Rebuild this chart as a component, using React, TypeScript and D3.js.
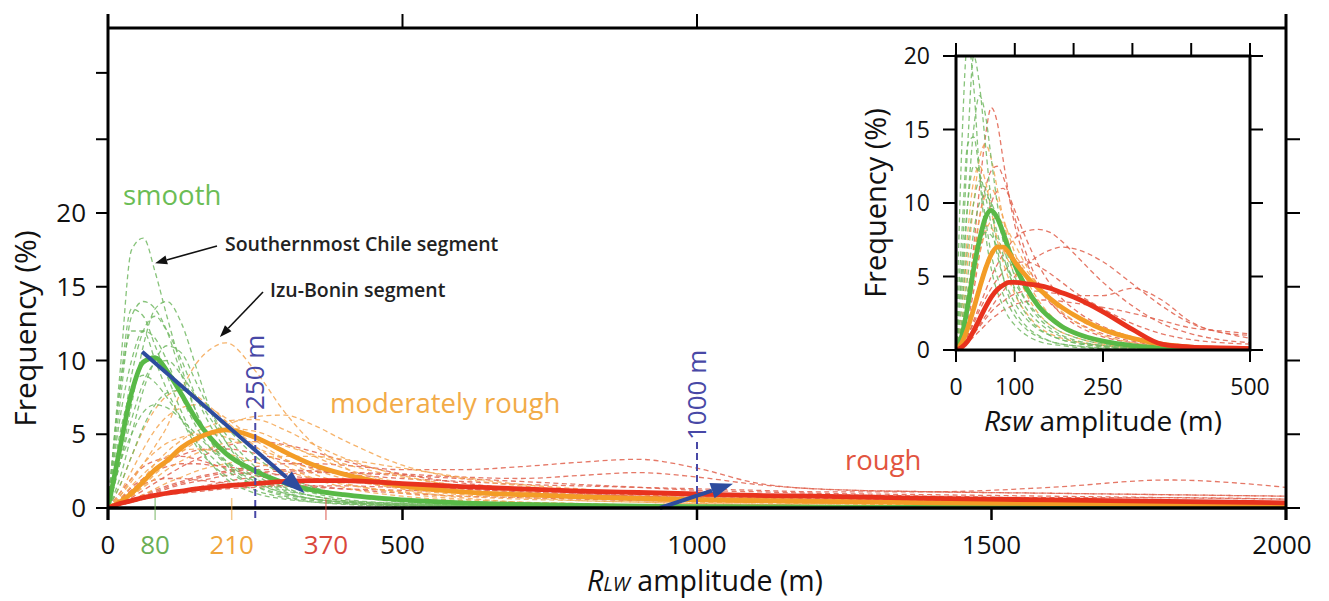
import React from "react";
import * as d3 from "d3";

// ---------- data: main panel (R_LW amplitude, m) ----------
const X_MAIN = [0, 20, 40, 60, 80, 100, 125, 150, 175, 200, 250, 300, 350, 400, 500, 600, 700, 800, 900, 1000, 1100, 1200, 1400, 1600, 1800, 2000];

const SMOOTH_MEAN = [0, 4.0, 7.8, 9.9, 10.2, 9.3, 7.7, 6.0, 4.7, 3.7, 2.5, 1.7, 1.2, 0.9, 0.55, 0.35, 0.25, 0.18, 0.12, 0.1, 0.08, 0.06, 0.04, 0.03, 0.02, 0.02];
const MODERATE_MEAN = [0, 0.4, 1.0, 1.8, 2.6, 3.2, 4.1, 4.7, 5.1, 5.3, 4.8, 3.8, 2.9, 2.3, 1.5, 1.1, 0.9, 0.75, 0.65, 0.55, 0.5, 0.45, 0.35, 0.3, 0.25, 0.2];
const ROUGH_MEAN = [0, 0.3, 0.5, 0.7, 0.85, 1.0, 1.15, 1.3, 1.4, 1.5, 1.65, 1.8, 1.85, 1.85, 1.65, 1.45, 1.3, 1.15, 1.05, 0.95, 0.85, 0.8, 0.65, 0.55, 0.45, 0.35];

const SMOOTH_SEGMENTS = [
  [0, 9, 17.5, 18.3, 16, 13, 9.5, 6.5, 4.5, 3, 1.5, 0.8, 0.5, 0.3, 0.15, 0.1, 0.05, 0.05, 0, 0, 0, 0, 0, 0, 0, 0],
  [0, 7, 13, 14, 13.5, 12, 9, 6.5, 4.5, 3.2, 1.8, 1.0, 0.6, 0.4, 0.2, 0.1, 0.05, 0.05, 0, 0, 0, 0, 0, 0, 0, 0],
  [0, 8, 13.5, 13, 11, 9, 6.5, 4.5, 3, 2, 1, 0.6, 0.4, 0.25, 0.1, 0.05, 0, 0, 0, 0, 0, 0, 0, 0, 0, 0],
  [0, 3, 7, 11, 13.5, 14, 12.5, 9.5, 6.5, 4.5, 2.3, 1.3, 0.8, 0.5, 0.3, 0.2, 0.1, 0.05, 0, 0, 0, 0, 0, 0, 0, 0],
  [0, 6, 10, 12, 11.5, 10, 7.5, 5.5, 4, 3, 1.7, 1, 0.6, 0.4, 0.2, 0.1, 0.05, 0, 0, 0, 0, 0, 0, 0, 0, 0],
  [0, 2, 5, 8, 10, 11, 10.5, 8.5, 6.5, 5, 2.8, 1.6, 1, 0.6, 0.3, 0.15, 0.1, 0.05, 0, 0, 0, 0, 0, 0, 0, 0],
  [0, 5, 8, 9, 8.5, 7.5, 6, 4.5, 3.5, 2.6, 1.5, 0.9, 0.6, 0.4, 0.2, 0.1, 0.05, 0, 0, 0, 0, 0, 0, 0, 0, 0],
  [0, 1.5, 3.5, 5.5, 7, 7.8, 8, 7.5, 6.5, 5.5, 3.5, 2.2, 1.4, 0.9, 0.4, 0.2, 0.1, 0.05, 0, 0, 0, 0, 0, 0, 0, 0],
  [0, 8, 12, 12, 10, 8, 6, 4.2, 3, 2.2, 1.2, 0.7, 0.4, 0.3, 0.15, 0.1, 0.05, 0, 0, 0, 0, 0, 0, 0, 0, 0],
  [0, 3, 6, 8.5, 9.8, 10, 9, 7.5, 6, 4.5, 2.5, 1.4, 0.8, 0.5, 0.25, 0.15, 0.1, 0.05, 0, 0, 0, 0, 0, 0, 0, 0],
  [0, 3, 5, 6.5, 7, 6.8, 6, 5, 4, 3.2, 2, 1.2, 0.8, 0.5, 0.3, 0.2, 0.1, 0.05, 0, 0, 0, 0, 0, 0, 0, 0],
  [0, 4, 9, 12, 13, 12, 10, 7.5, 5.5, 4, 2, 1.1, 0.6, 0.4, 0.2, 0.1, 0.05, 0, 0, 0, 0, 0, 0, 0, 0, 0],
];

const MODERATE_SEGMENTS = [
  [0, 0.8, 1.8, 3, 4.2, 5.5, 8, 9.8, 10.8, 11.2, 9.3, 6.5, 4.3, 2.8, 1.3, 0.7, 0.4, 0.3, 0.2, 0.15, 0.1, 0.1, 0.05, 0.05, 0, 0],
  [0, 0.3, 0.8, 1.5, 2.3, 3, 3.8, 4.5, 5.1, 5.6, 6.2, 6.3, 5.6, 4.6, 2.9, 2, 1.5, 1.2, 0.9, 0.7, 0.6, 0.5, 0.4, 0.3, 0.25, 0.2],
  [0, 0.5, 1.2, 2, 3, 3.8, 4.6, 5.2, 5.6, 5.9, 6, 5.3, 4.3, 3.4, 2.2, 1.5, 1.1, 0.8, 0.6, 0.5, 0.4, 0.35, 0.3, 0.2, 0.15, 0.1],
  [0, 0.8, 2, 3, 3.8, 4.4, 4.8, 5, 5, 4.8, 4.1, 3.3, 2.6, 2, 1.3, 0.9, 0.7, 0.5, 0.4, 0.3, 0.25, 0.2, 0.15, 0.1, 0.1, 0.05],
  [0, 1, 2.5, 4, 5.3, 6.2, 6.8, 7, 6.7, 6.1, 4.6, 3.3, 2.3, 1.7, 1, 0.6, 0.4, 0.3, 0.2, 0.15, 0.1, 0.1, 0.05, 0.05, 0, 0],
  [0, 0.3, 0.8, 1.4, 2, 2.6, 3.2, 3.7, 4.1, 4.4, 4.5, 4.2, 3.6, 3, 2.1, 1.5, 1.2, 0.9, 0.7, 0.6, 0.5, 0.4, 0.3, 0.25, 0.2, 0.15],
  [0, 1.5, 3.5, 5.3, 6.7, 7.6, 8, 7.6, 6.8, 5.9, 4.2, 2.9, 2, 1.4, 0.8, 0.5, 0.3, 0.2, 0.15, 0.1, 0.1, 0.05, 0.05, 0, 0, 0],
  [0, 0.2, 0.5, 0.9, 1.3, 1.7, 2.1, 2.5, 2.8, 3.0, 3.3, 3.5, 3.5, 3.3, 2.7, 2.1, 1.6, 1.3, 1.0, 0.8, 0.7, 0.6, 0.45, 0.35, 0.3, 0.25],
  [0, 0.4, 1, 1.8, 2.6, 3.3, 4.1, 4.7, 5.2, 5.4, 5.2, 4.4, 3.5, 2.7, 1.7, 1.2, 0.9, 0.7, 0.5, 0.4, 0.35, 0.3, 0.2, 0.15, 0.1, 0.1],
  [0, 0.6, 1.5, 2.3, 3, 3.5, 3.9, 4, 3.9, 3.7, 3.1, 2.5, 2, 1.6, 1.1, 0.8, 0.6, 0.5, 0.4, 0.3, 0.25, 0.2, 0.15, 0.1, 0.1, 0.05],
];

const ROUGH_SEGMENTS = [
  [0, 0.3, 0.6, 0.9, 1.2, 1.5, 1.8, 2.1, 2.3, 2.5, 2.8, 3.0, 3.0, 2.9, 2.6, 2.6, 2.8, 3.1, 3.3, 2.7, 1.7, 1.3, 1.1, 1.0, 0.9, 0.8],
  [0, 0.2, 0.4, 0.6, 0.8, 1.0, 1.2, 1.4, 1.6, 1.8, 2.1, 2.3, 2.4, 2.4, 2.3, 2.1, 2.0, 2.2, 2.4, 2.1, 1.6, 1.3, 1.1, 1.0, 0.9, 0.8],
  [0, 0.2, 0.5, 0.8, 1.1, 1.4, 1.7, 2.0, 2.2, 2.4, 2.6, 2.6, 2.5, 2.3, 2.0, 1.8, 1.6, 1.5, 1.4, 1.3, 1.2, 1.1, 1.1, 1.4, 1.9, 1.4],
  [0, 0.5, 1.2, 2, 2.7, 3.2, 3.6, 3.9, 4, 4, 3.7, 3.2, 2.7, 2.3, 1.7, 1.3, 1.1, 0.9, 0.8, 0.7, 0.6, 0.55, 0.5, 0.4, 0.35, 0.3],
  [0, 0.6, 1.4, 2, 2.5, 2.8, 3, 3, 2.9, 2.8, 2.5, 2.2, 2, 1.8, 1.5, 1.3, 1.1, 1.0, 0.9, 0.8, 0.7, 0.65, 0.55, 0.5, 0.45, 0.4],
  [0, 0.2, 0.4, 0.7, 1, 1.3, 1.6, 1.8, 2, 2.2, 2.4, 2.5, 2.5, 2.4, 2.2, 2, 1.8, 1.6, 1.4, 1.2, 1.1, 1.0, 0.9, 0.8, 0.7, 0.6],
  [0, 1, 2, 2.8, 3.2, 3.4, 3.5, 3.3, 3, 2.7, 2.2, 1.8, 1.5, 1.3, 1, 0.8, 0.7, 0.6, 0.5, 0.45, 0.4, 0.35, 0.3, 0.25, 0.2, 0.2],
  [0, 0.2, 0.4, 0.6, 0.8, 0.9, 1.0, 1.1, 1.2, 1.3, 1.4, 1.5, 1.5, 1.5, 1.4, 1.4, 1.3, 1.2, 1.1, 1.0, 0.9, 0.9, 0.8, 0.7, 0.7, 0.6],
  [0, 0.3, 0.7, 1.2, 1.7, 2.2, 2.8, 3.3, 3.8, 4.2, 4.5, 4.3, 3.8, 3.2, 2.3, 1.7, 1.3, 1.0, 0.8, 0.7, 0.6, 0.5, 0.4, 0.35, 0.3, 0.25],
  [0, 0.6, 1.2, 1.6, 1.9, 2.0, 2.0, 1.9, 1.8, 1.7, 1.6, 1.5, 1.4, 1.3, 1.2, 1.1, 1.0, 0.9, 0.8, 0.7, 0.65, 0.6, 0.5, 0.45, 0.4, 0.35],
];

// ---------- data: inset (R_SW amplitude, m) ----------
const X_INSET = [0, 10, 20, 30, 40, 50, 60, 70, 80, 90, 100, 120, 140, 160, 180, 200, 250, 300, 350, 400, 450, 500];

const INSET_SMOOTH_MEAN = [0, 1, 3, 5.5, 7.5, 9, 9.5, 9, 8, 6.8, 5.8, 4.2, 3, 2.2, 1.6, 1.2, 0.6, 0.3, 0.15, 0.1, 0.05, 0.05];
const INSET_MODERATE_MEAN = [0, 0.5, 1.5, 2.8, 4.2, 5.5, 6.5, 7, 7, 6.6, 6, 5, 4.2, 3.5, 2.9, 2.4, 1.4, 0.8, 0.4, 0.2, 0.1, 0.1];
const INSET_ROUGH_MEAN = [0, 0.2, 0.6, 1.3, 2.1, 2.9, 3.6, 4.1, 4.4, 4.6, 4.6, 4.5, 4.4, 4.2, 3.9, 3.6, 2.6, 1.4, 0.4, 0.2, 0.15, 0.1];

const INSET_SMOOTH_SEGMENTS = [
  [0, 14, 21, 18, 12, 8, 5.5, 4, 3, 2.2, 1.7, 1, 0.6, 0.4, 0.3, 0.2, 0.1, 0.05, 0, 0, 0, 0],
  [0, 6, 14, 20, 18, 14, 10, 7, 5, 3.6, 2.7, 1.6, 1, 0.6, 0.4, 0.3, 0.15, 0.1, 0.05, 0, 0, 0],
  [0, 4, 10, 15, 17.3, 16, 13, 10, 7.5, 5.5, 4, 2.4, 1.5, 1, 0.7, 0.5, 0.2, 0.1, 0.05, 0, 0, 0],
  [0, 5, 10, 12.5, 12, 10.5, 8.5, 6.5, 5, 4, 3.2, 2.1, 1.4, 1, 0.7, 0.5, 0.25, 0.1, 0.05, 0, 0, 0],
  [0, 3, 7, 10, 11.5, 11, 9.5, 8, 6.5, 5.2, 4.2, 2.8, 1.9, 1.3, 0.9, 0.6, 0.3, 0.15, 0.1, 0.05, 0, 0],
  [0, 2, 5, 8, 10, 10.5, 10, 9, 7.5, 6.2, 5, 3.3, 2.2, 1.5, 1, 0.7, 0.3, 0.15, 0.1, 0.05, 0, 0],
  [0, 8, 14, 14.5, 12, 9, 6.5, 5, 3.8, 3, 2.3, 1.4, 0.9, 0.6, 0.4, 0.3, 0.1, 0.05, 0, 0, 0, 0],
  [0, 1.5, 4, 6, 7.5, 8, 7.8, 7, 6.2, 5.4, 4.6, 3.3, 2.4, 1.7, 1.2, 0.9, 0.4, 0.2, 0.1, 0.05, 0, 0],
];

const INSET_MODERATE_SEGMENTS = [
  [0, 2, 6, 10, 13, 14, 13, 11, 9, 7.2, 5.8, 3.8, 2.5, 1.7, 1.2, 0.9, 0.4, 0.2, 0.1, 0.05, 0, 0],
  [0, 1, 3.5, 6.5, 9, 10.5, 11, 10.2, 9, 7.8, 6.6, 4.8, 3.4, 2.4, 1.7, 1.2, 0.6, 0.3, 0.15, 0.1, 0.05, 0],
  [0, 0.8, 2.5, 4.5, 6.5, 8, 8.8, 9, 8.6, 8, 7.2, 5.7, 4.4, 3.4, 2.6, 2, 1, 0.5, 0.25, 0.15, 0.1, 0.05],
  [0, 1.5, 4, 6.5, 8, 8.5, 8.3, 7.6, 6.8, 6, 5.2, 3.9, 2.9, 2.1, 1.5, 1.1, 0.5, 0.25, 0.1, 0.05, 0, 0],
  [0, 0.5, 1.5, 3, 4.5, 5.8, 6.6, 7, 7, 6.8, 6.4, 5.4, 4.4, 3.6, 2.9, 2.3, 1.3, 0.7, 0.35, 0.2, 0.1, 0.05],
  [0, 3, 8, 11.5, 12.5, 11.5, 9.5, 7.5, 6, 4.8, 3.8, 2.5, 1.6, 1.1, 0.8, 0.6, 0.3, 0.15, 0.05, 0, 0, 0],
];

const INSET_ROUGH_SEGMENTS = [
  [0, 1, 3.5, 7, 11, 14.5, 16.5, 15.5, 13, 10.5, 8.5, 6, 4.3, 3.2, 2.5, 2, 1.1, 0.6, 0.3, 0.2, 0.1, 0.05],
  [0, 0.3, 1, 2, 3, 4, 5, 5.8, 6.5, 7.1, 7.6, 8.1, 8.2, 8, 7.4, 6.6, 4.6, 3, 1.8, 1.1, 0.7, 0.5],
  [0, 0.2, 0.6, 1.1, 1.6, 2.1, 2.6, 3, 3.3, 3.6, 3.8, 4, 4, 3.9, 3.8, 3.7, 3.7, 4.2, 3.4, 1.9, 1.2, 1.0],
  [0, 0.5, 2, 4, 6.5, 8.5, 10, 10.8, 11, 10.5, 9.5, 7.5, 5.8, 4.5, 3.5, 2.8, 1.6, 0.9, 0.5, 0.3, 0.2, 0.1],
  [0, 0.3, 1, 1.8, 2.7, 3.5, 4.2, 4.8, 5.3, 5.7, 5.9, 6, 5.7, 5.2, 4.6, 4, 2.8, 1.8, 1.1, 0.7, 0.5, 0.4],
  [0, 0.2, 0.6, 1.1, 1.7, 2.3, 2.9, 3.5, 4, 4.5, 5, 5.8, 6.4, 6.8, 7, 6.9, 6, 4.5, 3, 1.8, 1.2, 0.8],
  [0, 1, 3, 6, 9, 11, 12.2, 12.5, 11.8, 10.5, 9, 6.5, 4.6, 3.3, 2.4, 1.8, 0.9, 0.5, 0.3, 0.2, 0.1, 0.05],
  [0, 0.2, 0.5, 0.9, 1.3, 1.7, 2.1, 2.4, 2.7, 2.9, 3.1, 3.3, 3.4, 3.4, 3.3, 3.2, 2.9, 2.5, 2, 1.5, 1.3, 1.1],
];

// ---------- ticks / labels ----------
const MAIN_X_TICKS = [0, 500, 1000, 1500, 2000];
const MAIN_TOP_TICKS = [0, 500, 1000, 2000];
const MAIN_Y_TICKS = [0, 5, 10, 15, 20];
const MAIN_LEFT_EXTRA_TICKS = [25, 29.5];
const MAIN_RIGHT_TICKS = [0, 5, 10, 15, 20, 25];
const CLASS_TICKS = [80, 210, 370];
const INSET_X_TICKS = [0, 100, 250, 500];
const INSET_TOP_TICKS = [0, 100, 200, 300, 400, 500];
const INSET_Y_TICKS = [0, 5, 10, 15, 20];
const REF_LINES = [250, 1000];

const GREEN = "#58b947";
const ORANGE = "#f39c26";
const RED = "#e8321e";
const GREEN_D = "#72b863";
const ORANGE_D = "#f4a651";
const RED_D = "#e0604c";
const CLASS_COLORS = ["#6aae55", "#f0a43c", "#d9473c"];
const BLUE = "#2d4c9e";
const BLUE_L = "#4848a6";
const FONT = "'Open Sans', 'Noto Sans', sans-serif";

const xMain = d3.scaleLinear().domain([0, 2000]).range([108, 1286]);
const yMain = d3.scaleLinear().domain([0, 20]).range([508, 213]);
const xIn = d3.scaleLinear().domain([0, 500]).range([956, 1250]);
const yIn = d3.scaleLinear().domain([0, 20]).range([350, 56]);

function pathFor(xs: number[], ys: number[], xs_: any, ys_: any) {
  const line = d3
    .line<number>()
    .x((_, i) => xs_(xs[i]))
    .y((v) => ys_(v))
    .curve(d3.curveMonotoneX);
  return line(ys) || "";
}

function Arrow({ x1, y1, x2, y2, color, width, head, headW }: any) {
  const ang = Math.atan2(y2 - y1, x2 - x1);
  const bx = x2 - head * Math.cos(ang);
  const by = y2 - head * Math.sin(ang);
  const px = -Math.sin(ang) * headW;
  const py = Math.cos(ang) * headW;
  return (
    <g>
      <line x1={x1} y1={y1} x2={bx} y2={by} stroke={color} strokeWidth={width} />
      <polygon points={`${x2},${y2} ${bx + px},${by + py} ${bx - px},${by - py}`} fill={color} />
    </g>
  );
}

export default function App() {
  const dashed = (segs: number[][], xs: number[], sx: any, sy: any, color: string, key: string) =>
    segs.map((s, i) => (
      <path key={key + i} d={pathFor(xs, s, sx, sy)} fill="none" stroke={color} strokeWidth={1.3} strokeDasharray="5,3.5" opacity={0.85} />
    ));
  const thick = (s: number[], xs: number[], sx: any, sy: any, color: string) => (
    <path d={pathFor(xs, s, sx, sy)} fill="none" stroke={color} strokeWidth={4.8} strokeLinejoin="round" />
  );

  const mainTop = 28;
  const mainBottom = yMain(0);
  const mainLeft = xMain(0);
  const mainRight = xMain(2000);

  return (
    <svg width={1329} height={601} style={{ position: "absolute", left: 0, top: 0, background: "#fff" }} fontFamily={FONT}>
      <defs>
        <clipPath id="mainClip">
          <rect x={mainLeft} y={mainTop} width={mainRight - mainLeft} height={mainBottom - mainTop} />
        </clipPath>
        <clipPath id="insetClip">
          <rect x={xIn(0)} y={yIn(20)} width={xIn(500) - xIn(0)} height={yIn(0) - yIn(20)} />
        </clipPath>
      </defs>
      <rect x={0} y={0} width={1329} height={601} fill="#fff" />

      {/* main curves */}
      <g clipPath="url(#mainClip)">
        {dashed(ROUGH_SEGMENTS, X_MAIN, xMain, yMain, RED_D, "r")}
        {dashed(MODERATE_SEGMENTS, X_MAIN, xMain, yMain, ORANGE_D, "o")}
        {dashed(SMOOTH_SEGMENTS, X_MAIN, xMain, yMain, GREEN_D, "g")}
        {thick(SMOOTH_MEAN, X_MAIN, xMain, yMain, GREEN)}
        {thick(MODERATE_MEAN, X_MAIN, xMain, yMain, ORANGE)}
        {thick(ROUGH_MEAN, X_MAIN, xMain, yMain, RED)}
      </g>

      {/* reference lines 250 m / 1000 m */}
      {REF_LINES.map((v, i) => (
        <g key={"ref" + v}>
          <line x1={xMain(v)} x2={xMain(v)} y1={i === 0 ? 412 : 442} y2={520} stroke={BLUE_L} strokeWidth={2} strokeDasharray="7,4" />
          <text
            transform={`translate(${xMain(v) + 9},${i === 0 ? 410 : 440}) rotate(-90)`}
            fontSize={26}
            fill={BLUE_L}
          >
            {v} m
          </text>
        </g>
      ))}

      {/* blue arrows */}
      <Arrow x1={xMain(58)} y1={yMain(10.6)} x2={xMain(334)} y2={yMain(1.0)} color={BLUE} width={4} head={24} headW={8} />
      <Arrow x1={xMain(937)} y1={yMain(0)} x2={xMain(1061)} y2={yMain(1.65)} color={BLUE} width={4} head={22} headW={8} />

      {/* frame main */}
      <line x1={mainLeft} x2={mainRight} y1={mainTop} y2={mainTop} stroke="#000" strokeWidth={3} />
      <line x1={mainLeft} x2={mainRight} y1={mainBottom} y2={mainBottom} stroke="#000" strokeWidth={3.5} />
      <line x1={mainLeft} x2={mainLeft} y1={14} y2={mainBottom + 12} stroke="#000" strokeWidth={3} />
      <line x1={mainRight} x2={mainRight} y1={14} y2={mainBottom + 12} stroke="#000" strokeWidth={3} />
      {MAIN_TOP_TICKS.map((t) => (
        <line key={"tt" + t} x1={xMain(t)} x2={xMain(t)} y1={14} y2={mainTop} stroke="#000" strokeWidth={2} />
      ))}
      {MAIN_X_TICKS.map((t) => (
        <g key={"bx" + t}>
          <line x1={xMain(t)} x2={xMain(t)} y1={mainBottom} y2={mainBottom + 12} stroke="#000" strokeWidth={2.5} />
          <text x={xMain(t) - (t === 2000 ? 4 : 0)} y={554} fontSize={26} textAnchor="middle" fill="#111">
            {t}
          </text>
        </g>
      ))}
      {CLASS_TICKS.map((t, i) => (
        <g key={"ct" + t}>
          <line x1={xMain(t)} x2={xMain(t)} y1={mainBottom - 10} y2={mainBottom + 12} stroke={CLASS_COLORS[i]} strokeWidth={1.5} opacity={0.6} />
          <text x={xMain(t)} y={554} fontSize={26} textAnchor="middle" fill={CLASS_COLORS[i]}>
            {t}
          </text>
        </g>
      ))}
      {MAIN_Y_TICKS.map((t) => (
        <g key={"ly" + t}>
          <line x1={mainLeft - 12} x2={mainLeft} y1={yMain(t)} y2={yMain(t)} stroke="#000" strokeWidth={2} />
          <text x={mainLeft - 22} y={yMain(t) + 9} fontSize={26} textAnchor="end" fill="#111">
            {t}
          </text>
        </g>
      ))}
      {MAIN_LEFT_EXTRA_TICKS.map((t) => (
        <line key={"le" + t} x1={mainLeft - 12} x2={mainLeft} y1={yMain(t)} y2={yMain(t)} stroke="#000" strokeWidth={2} />
      ))}
      {MAIN_RIGHT_TICKS.map((t) => (
        <line key={"ry" + t} x1={mainRight} x2={mainRight + 14} y1={yMain(t)} y2={yMain(t)} stroke="#000" strokeWidth={2} />
      ))}

      <text transform={`translate(36,${(430 + 227) / 2}) rotate(-90)`} fontSize={30} textAnchor="middle" fill="#111">
        Frequency (%)
      </text>
      <text x={705} y={591} fontSize={28.5} textAnchor="middle" fill="#111">
        <tspan fontStyle="italic">R</tspan>
        <tspan fontStyle="italic" fontSize={20}>LW</tspan>
        <tspan> amplitude (m)</tspan>
      </text>

      {/* class labels */}
      <text x={123} y={205} fontSize={27.5} fill="#6bbd55">smooth</text>
      <text x={330} y={413} fontSize={27.5} fill="#f2ab48">moderately rough</text>
      <text x={845} y={470} fontSize={27.5} fill="#e2553f">rough</text>

      {/* segment annotations */}
      <text x={225} y={251} fontSize={19.5} fontWeight={600} fill="#222">Southernmost Chile segment</text>
      <text x={270} y={297} fontSize={19.5} fontWeight={600} fill="#222">Izu-Bonin segment</text>
      <Arrow x1={217} y1={246} x2={xMain(80)} y2={yMain(16.6)} color="#111" width={1.6} head={12} headW={4.5} />
      <Arrow x1={263} y1={292} x2={xMain(190)} y2={yMain(11.6)} color="#111" width={1.6} head={12} headW={4.5} />

      {/* inset */}
      <rect x={xIn(0)} y={yIn(20)} width={xIn(500) - xIn(0)} height={yIn(0) - yIn(20)} fill="#fff" />
      <g clipPath="url(#insetClip)">
        {dashed(INSET_ROUGH_SEGMENTS, X_INSET, xIn, yIn, RED_D, "ir")}
        {dashed(INSET_MODERATE_SEGMENTS, X_INSET, xIn, yIn, ORANGE_D, "io")}
        {dashed(INSET_SMOOTH_SEGMENTS, X_INSET, xIn, yIn, GREEN_D, "ig")}
        {thick(INSET_SMOOTH_MEAN, X_INSET, xIn, yIn, GREEN)}
        {thick(INSET_MODERATE_MEAN, X_INSET, xIn, yIn, ORANGE)}
        {thick(INSET_ROUGH_MEAN, X_INSET, xIn, yIn, RED)}
      </g>
      <rect x={xIn(0)} y={yIn(20)} width={xIn(500) - xIn(0)} height={yIn(0) - yIn(20)} fill="none" stroke="#000" strokeWidth={3} />
      {INSET_TOP_TICKS.map((t) => (
        <line key={"it" + t} x1={xIn(t)} x2={xIn(t)} y1={yIn(20) - 13} y2={yIn(20)} stroke="#000" strokeWidth={2} />
      ))}
      {INSET_X_TICKS.map((t) => (
        <g key={"ix" + t}>
          <line x1={xIn(t)} x2={xIn(t)} y1={yIn(0)} y2={yIn(0) + 12} stroke="#000" strokeWidth={2} />
          <text x={xIn(t)} y={395} fontSize={23} textAnchor="middle" fill="#111">
            {t}
          </text>
        </g>
      ))}
      {INSET_Y_TICKS.map((t) => (
        <g key={"iy" + t}>
          <line x1={xIn(0) - 13} x2={xIn(0)} y1={yIn(t)} y2={yIn(t)} stroke="#000" strokeWidth={2} />
          <line x1={xIn(500)} x2={xIn(500) + 13} y1={yIn(t)} y2={yIn(t)} stroke="#000" strokeWidth={2} />
          <text x={930} y={yIn(t) + 8} fontSize={23} textAnchor="end" fill="#111">
            {t}
          </text>
        </g>
      ))}
      <text transform={`translate(886,203) rotate(-90)`} fontSize={29} textAnchor="middle" fill="#111">
        Frequency (%)
      </text>
      <text x={1103} y={431} fontSize={28} textAnchor="middle" fill="#111">
        <tspan fontStyle="italic">R</tspan>
        <tspan fontStyle="italic">sw</tspan>
        <tspan> amplitude (m)</tspan>
      </text>
    </svg>
  );
}
